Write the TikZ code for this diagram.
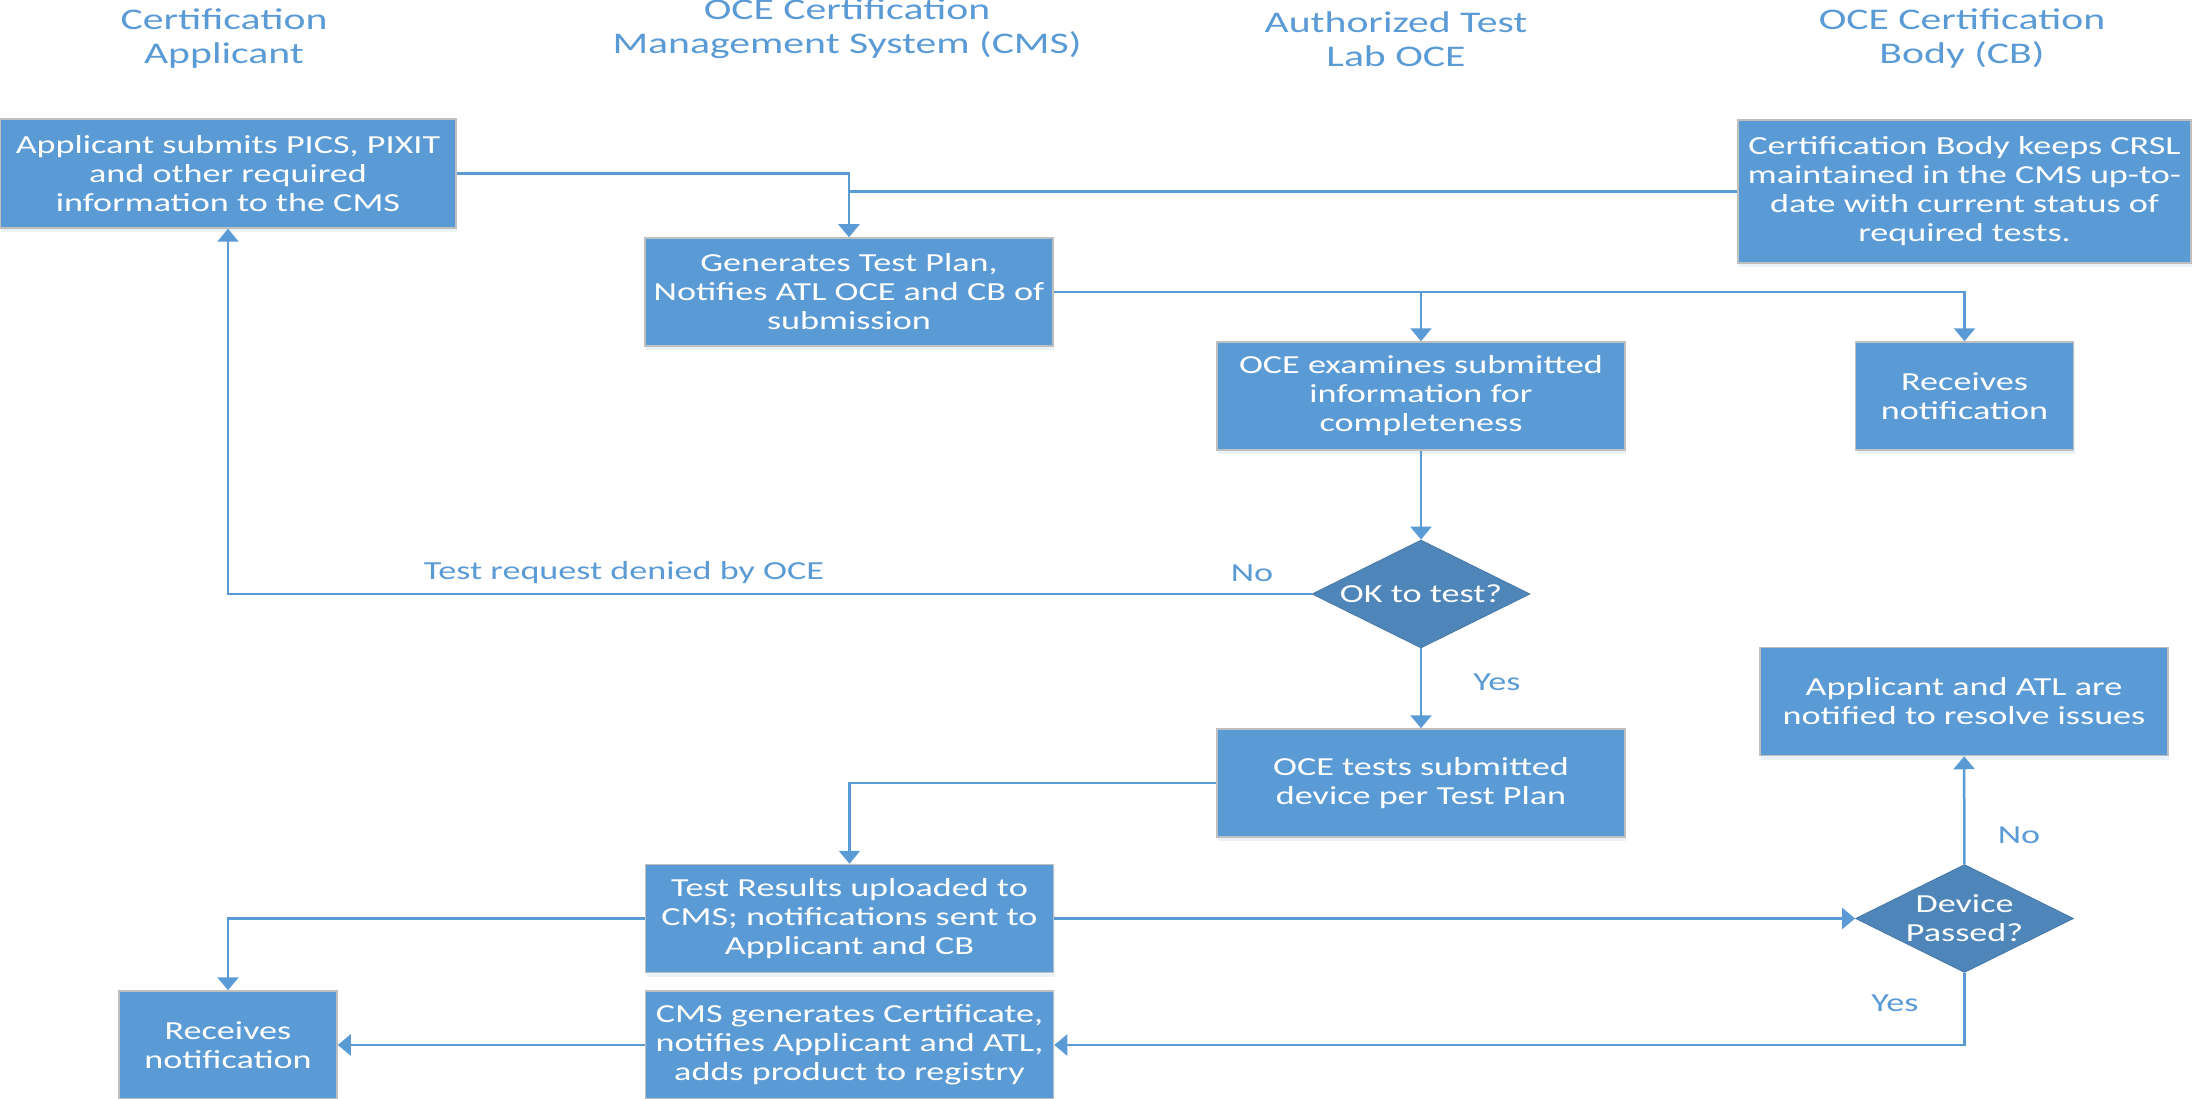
\documentclass[tikz,border=0pt]{standalone}
\usepackage{fontspec}
\setmainfont{Carlito}[FakeStretch=1.39]
\usetikzlibrary{arrows.meta,shapes.geometric,shadows,positioning}

\definecolor{boxblue}{HTML}{5B9BD5}
\definecolor{diablue}{HTML}{4F86B9}
\definecolor{boxgrey}{HTML}{BFBFBF}

\begin{document}
\begin{tikzpicture}[->,>={Triangle[length=13pt,width=21pt]},x=1pt,y=-1pt,
  box/.style={rectangle, fill=boxblue, draw=boxgrey, line width=1.5pt, text=white, align=center,
    inner sep=0pt, minimum width=408, minimum height=108, font=\fontsize{26}{29}\selectfont,
    drop shadow={shadow xshift=1pt, shadow yshift=-4pt, fill=boxblue!50, opacity=0.25}},
  smallbox/.style={box, minimum width=218},
  decision/.style={diamond, fill=diablue, draw=diablue!90!black, line width=0.8pt, text=white, align=center,
    inner xsep=-12pt, inner ysep=0pt, shape aspect=2, minimum width=218, minimum height=108,
    font=\fontsize{26}{29}\selectfont},
  lane/.style={text=boxblue, align=center, font=\fontsize{30}{34}\selectfont},
  tag/.style={text=boxblue, font=\fontsize{26}{29}\selectfont},
  flow/.style={color=boxblue, line width=2.5pt}]
  \useasboundingbox (0,0) rectangle (2192,1099);

  % lane headings
  \node [lane] (hdapp) at (224,39) {Certification\\Applicant};
  \node [lane] (hdcms) at (847,29) {OCE Certification\\Management System (CMS)};
  \node [lane] (hdatl) at (1396,39) {Authorized Test\\Lab OCE};
  \node [lane] (hdcb) at (1962,39) {OCE Certification\\Body (CB)};

  \node [box, minimum width=456, minimum height=109] (app) at (228,173.5) {Applicant submits PICS, PIXIT\\and other required\\information to the CMS};
  \node [box] (plan) at (849,292) {Generates Test Plan,\\Notifies ATL OCE and CB of\\submission};
  \node [box, minimum width=453, minimum height=143] (crsl) at (1964.5,191.5) {Certification Body keeps CRSL\\maintained in the CMS up-to-\\date with current status of\\required tests.};
  \node [box] (exam) at (1421,396) {OCE examines submitted\\information for\\completeness};
  \node [smallbox] (recv1) at (1964.5,396) {Receives\\notification};
  \node [decision] (ok) at (1421,594) {OK to test?};
  \node [box] (tests) at (1421,783) {OCE tests submitted\\device per Test Plan};
  \node [box] (resolve) at (1964,701.5) {Applicant and ATL are\\notified to resolve issues};
  \node [box] (results) at (849.5,918.5) {Test Results uploaded to\\CMS; notifications sent to\\Applicant and CB};
  \node [decision] (device) at (1964.5,918.5) {Device\\Passed?};
  \node [smallbox] (recv2) at (228,1045) {Receives\\notification};
  \node [box] (cert) at (849.5,1045) {CMS generates Certificate,\\notifies Applicant and ATL,\\adds product to registry};

  \node [tag] (denied) at (624,573) {Test request denied by OCE};
  \node [tag] (okno) at (1252,573) {No};
  \node [tag] (okyes) at (1497,682) {Yes};
  \node [tag] (devno) at (2019,835) {No};
  \node [tag] (devyes) at (1895,1003) {Yes};

  \draw [flow] (app) -| (plan);
  \draw [flow,-] (crsl) -- (crsl -| plan);
  \draw [flow] (plan) -| (exam);
  \draw [flow] (plan) -| (recv1);
  \draw [flow] (ok) -| (app);
  \draw [flow] (tests) -| (results);
  \draw [flow] (results) -| (recv2);
  \draw [flow] (device) |- (cert);

  \path [flow] (exam) edge (ok);
  \path [flow] (ok) edge (tests);
  \path [flow] (results) edge (device);
  \path [flow] (device) edge (resolve);
  \path [flow] (cert) edge (recv2);

\end{tikzpicture}
\end{document}
